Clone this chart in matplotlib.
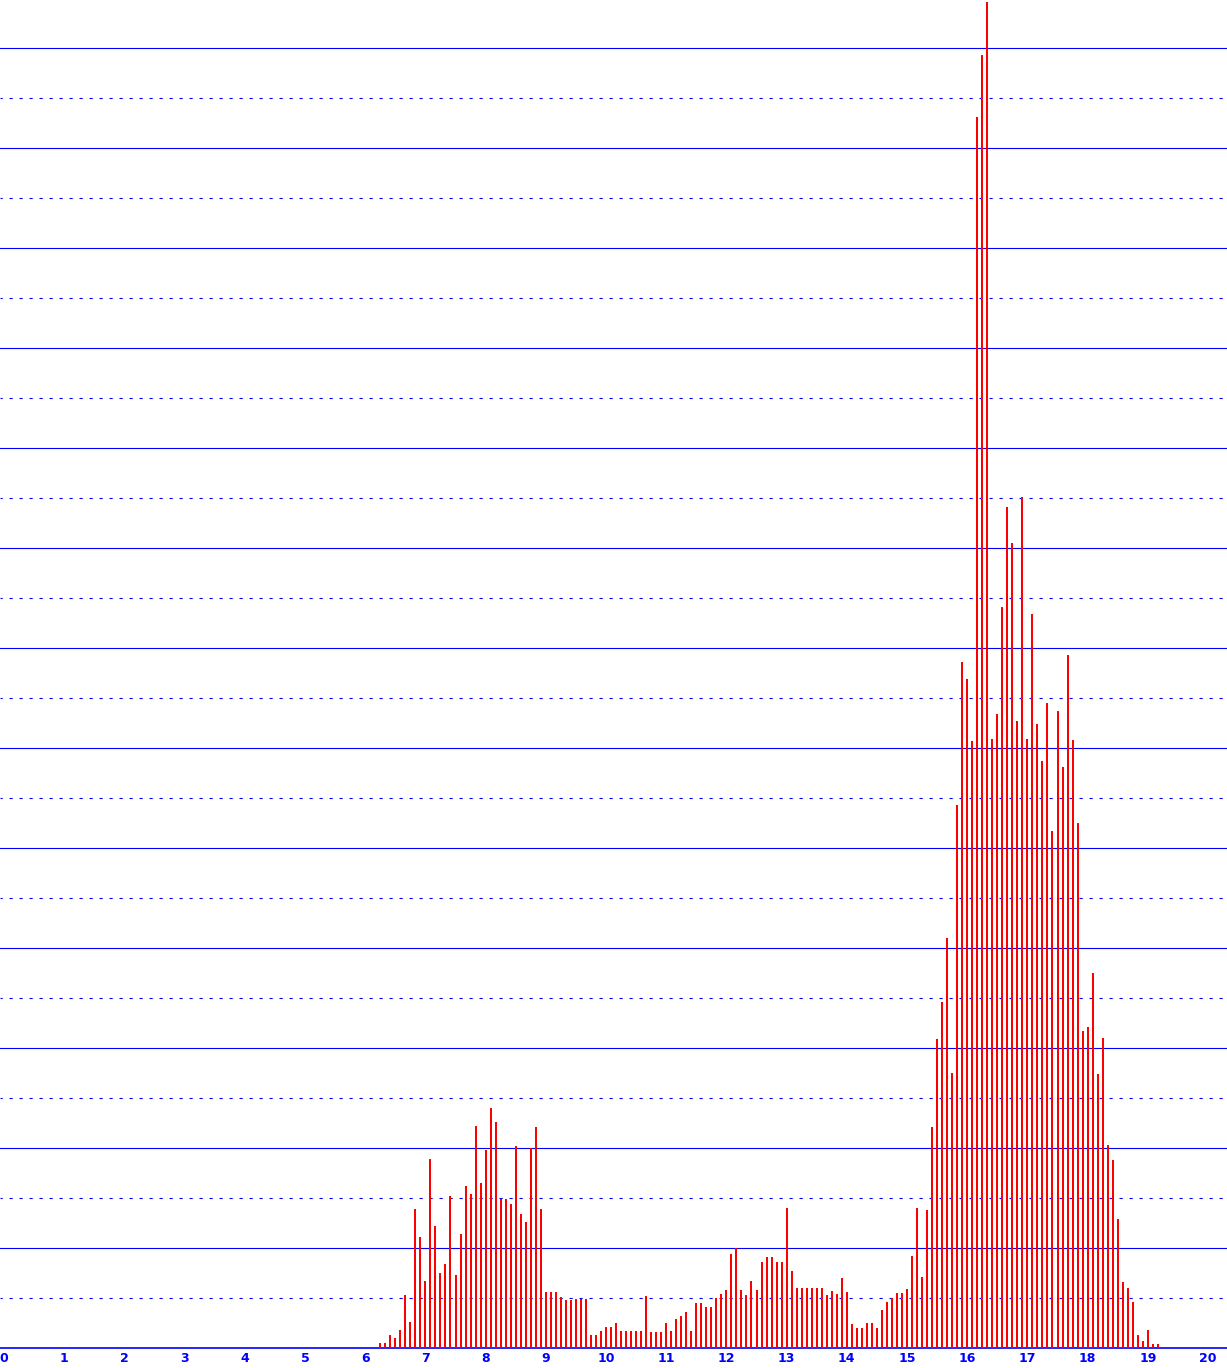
import numpy as np
import matplotlib
matplotlib.use('Agg')
import matplotlib.pyplot as plt

# bin centres run from 6.25 in steps of 1/12
first_bin = 6.25
bin_step = 1 / 12
heights = [
    0.10, 0.10, 0.27, 0.20, 0.37, 1.07, 0.52, 2.79, 2.23, 1.35,
    3.79, 2.45, 1.51, 1.69, 3.05, 1.47, 2.29, 3.25, 3.09, 4.45,
    3.31, 3.97, 4.81, 4.53, 2.99, 2.99, 2.89, 4.05, 2.69, 2.53,
    4.01, 4.43, 2.79, 1.13, 1.13, 1.13,
    1.03, 0.97, 0.97, 0.99, 0.99, 0.99, 0.27, 0.27, 0.35, 0.43,
    0.43, 0.51, 0.35, 0.35, 0.35, 0.35, 0.35, 1.05, 0.33, 0.33,
    0.33, 0.51, 0.35, 0.59, 0.65, 0.73, 0.35, 0.91, 0.91, 0.83,
    0.83, 1.01, 1.09, 1.17, 1.89, 2.01, 1.17, 1.07, 1.35, 1.17,
    1.73, 1.83, 1.83, 1.73, 1.73, 2.81,
    1.55, 1.21, 1.21, 1.21, 1.21, 1.21, 1.21, 1.07, 1.15, 1.09,
    1.41, 1.13, 0.49, 0.41, 0.41, 0.51, 0.51, 0.41, 0.77, 0.93,
    1.01, 1.11, 1.11, 1.19, 1.85, 2.81, 1.43, 2.77,
    4.42, 6.18, 6.92, 8.21, 5.50, 10.87, 13.72, 13.39, 12.14, 24.63,
    25.87, 26.93, 12.19, 12.68, 14.83, 16.82, 16.11, 12.55, 17.02, 12.19,
    14.69, 12.48, 11.74, 12.90, 10.35, 12.74, 11.62, 13.87, 12.17, 10.50,
    6.34, 6.42, 7.50, 5.48, 6.20, 4.06, 3.77, 2.58, 1.32, 1.20,
    0.92, 0.27, 0.15, 0.37, 0.09, 0.09,
]
x_ticks = list(range(0, 21))
x_labels = [str(t) for t in x_ticks]

plt.rcParams['lines.scale_dashes'] = False

px_per_unit = 60.2
W, H = 1227, 1368
fig = plt.figure(figsize=(W / 100, H / 100), dpi=100)
ax = fig.add_axes([0, 20 / H, 1, 1348 / H])

x = first_bin + bin_step * np.arange(len(heights))
ax.bar(x, heights, width=2 / px_per_unit, color='#ff0000', zorder=3)

x0 = -4 / px_per_unit
ax.set_xlim(x0, x0 + W / px_per_unit)
ax.set_ylim(0, 1348 / 50)

ax.set_yticks(np.arange(0, 27, 2))
ax.set_yticks(np.arange(1, 27, 2), minor=True)
ax.tick_params(axis='y', which='both', left=False, labelleft=False)
ax.grid(True, axis='y', which='major', color='#0000ff', linewidth=0.8)
ax.grid(True, axis='y', which='minor', color='#0000ff', linewidth=0.8,
        linestyle=(0.7, (2.3, 4.9)))

ax.set_xticks(x_ticks)
ax.set_xticklabels(x_labels)
ax.tick_params(axis='x', length=0, pad=3, labelsize=9, labelcolor='#0000ff')
for lab in ax.get_xticklabels():
    lab.set_fontweight('bold')

for side in ['top', 'right', 'left']:
    ax.spines[side].set_visible(False)
ax.spines['bottom'].set_color('#0000ff')
ax.spines['bottom'].set_linewidth(1.2)

fig.savefig('out.png', dpi=100)
